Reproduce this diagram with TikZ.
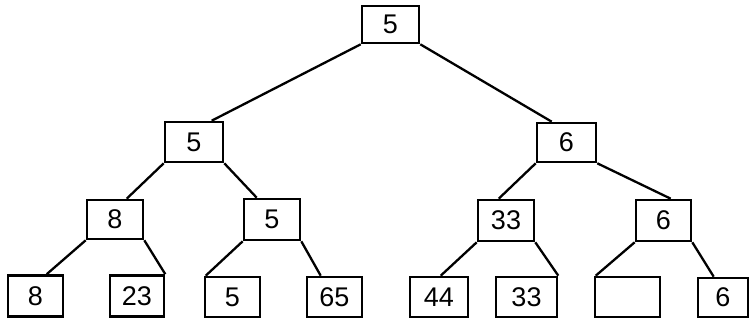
\documentclass[tikz,border=0pt]{standalone}
\usepackage{fontspec}
\setmainfont{Liberation Sans}
\begin{document}
\begin{tikzpicture}[x=1pt,y=-1pt,
  box/.style={draw,line width=2.6pt,inner sep=0pt,minimum height=40pt,minimum width=56pt,font=\fontsize{27}{27}\selectfont},
  edge/.style={line width=2.3pt}]
\useasboundingbox (0,0) rectangle (750,321);
\node[box,minimum width=57,minimum height=37] (root) at (390.5,24.5) {5};
\node[box,minimum width=58] (l1l) at (194,142) {5};
\node[box,minimum width=59,minimum height=39] (l1r) at (566.5,142.5) {6};
\node[box,minimum height=39] (a8) at (115,219.5) {8};
\node[box,minimum height=41] (b5) at (272,219.5) {5};
\node[box,minimum height=41] (c33) at (506,220.5) {33};
\node[box,minimum width=55,minimum height=41] (d6) at (663.5,220.5) {6};
\node[box,minimum width=55,minimum height=41] (e8) at (35.5,296) {8};
\node[box,minimum width=54,minimum height=41] (f23) at (137,296) {23};
\node[box,minimum width=55,minimum height=40] (g5) at (232.5,297) {5};
\node[box,minimum width=55,minimum height=40] (h65) at (334.5,297) {65};
\node[box,minimum width=58,minimum height=40] (i44) at (439,297) {44};
\node[box,minimum width=61,minimum height=40] (j33) at (526.5,297) {33};
\node[box,minimum width=65,minimum height=40] (k) at (627.5,297) {};
\node[box,minimum width=50,minimum height=39] (l6) at (723,297.5) {6};
\draw[edge] (root.south west) -- ([xshift=48]l1l.north west);
\draw[edge] (root.south east) -- ([xshift=16]l1r.north west);
\draw[edge] (l1l.south west) -- ([xshift=41]a8.north west);
\draw[edge] (l1l.south east) -- ([xshift=14]b5.north west);
\draw[edge] (l1r.south west) -- ([xshift=22]c33.north west);
\draw[edge] (l1r.south east) -- ([xshift=36]d6.north west);
\draw[edge] (a8.south west) -- ([xshift=40]e8.north west);
\draw[edge] (a8.south east) -- (f23.north east);
\draw[edge] (b5.south west) -- ([xshift=2]g5.north west);
\draw[edge] (b5.south east) -- ([xshift=15]h65.north west);
\draw[edge] (c33.south west) -- ([xshift=32]i44.north west);
\draw[edge] (c33.south east) -- (j33.north east);
\draw[edge] (d6.south west) -- ([xshift=2]k.north west);
\draw[edge] (d6.south east) -- ([xshift=17]l6.north west);
\end{tikzpicture}
\end{document}
